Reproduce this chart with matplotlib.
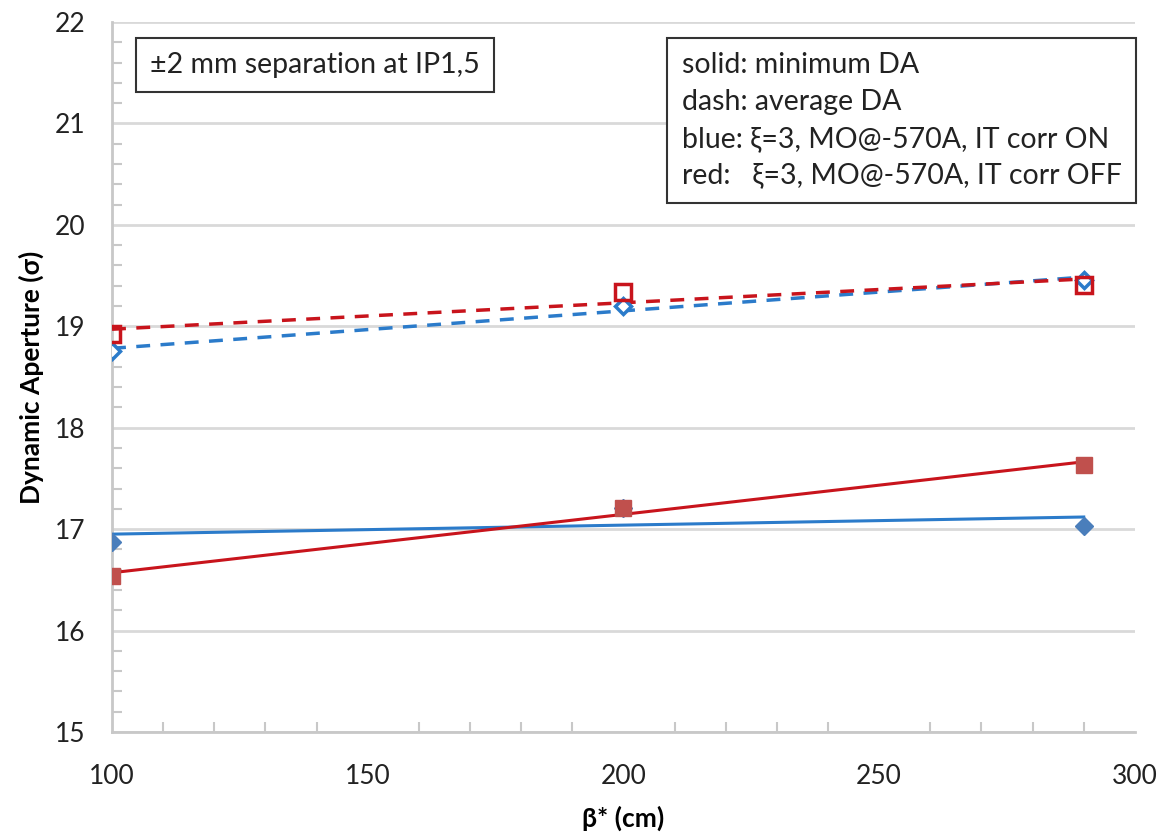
import numpy as np
import matplotlib.pyplot as plt
from matplotlib.ticker import MultipleLocator

# beta* values (cm)
beta = [100, 200, 290]

# dynamic aperture (sigma)
min_on = [16.87, 17.21, 17.03]   # blue, solid
min_off = [16.54, 17.21, 17.63]  # red, solid
avg_on = [18.76, 19.20, 19.46]   # blue, dash
avg_off = [18.92, 19.34, 19.41]  # red, dash

plt.rcParams['font.family'] = ['Lato', 'DejaVu Sans']

fig = plt.figure(figsize=(11.61, 8.36), dpi=100)
ax = fig.add_axes([0.0965, 0.1244, 0.881, 0.8493])


def trend(x, y):
    # linear trend line over the data range
    p = np.polyfit(x, y, 1)
    xs = np.array([min(x), max(x)])
    return xs, np.polyval(p, xs)


blue_line = '#2b7bca'
blue_mark = '#4a7ebb'
red_line = '#c8141c'
red_mark = '#c0504d'

# trend lines
xs, ys = trend(beta, min_on)
ax.plot(xs, ys, '-', color=blue_line, lw=2.2, zorder=3)
xs, ys = trend(beta, min_off)
ax.plot(xs, ys, '-', color=red_line, lw=2.2, zorder=3)
xs, ys = trend(beta, avg_on)
ax.plot(xs, ys, '--', color=blue_line, lw=2.5, dashes=(4, 3), zorder=3)
xs, ys = trend(beta, avg_off)
ax.plot(xs, ys, '--', color=red_line, lw=2.5, dashes=(4, 3), zorder=3)

# markers
ax.plot(beta, min_on, 'D', color=blue_mark, ms=9, ls='none', zorder=4)
ax.plot(beta, min_off, 's', color=red_mark, ms=11, ls='none', zorder=5)
ax.plot(beta, avg_on, 'D', mfc='white', mec=blue_line, mew=2.5, ms=8, ls='none', zorder=4)
ax.plot(beta, avg_off, 's', mfc='none', mec=red_line, mew=2.5, ms=11, ls='none', zorder=5)

ax.set_xlim(100, 300)
ax.set_ylim(15, 22)
ax.xaxis.set_major_locator(MultipleLocator(50))
ax.xaxis.set_minor_locator(MultipleLocator(10))
ax.yaxis.set_major_locator(MultipleLocator(1))
ax.yaxis.set_minor_locator(MultipleLocator(0.2))
ax.grid(axis='y', which='major', color='#d9d9d9', lw=2)
ax.set_axisbelow(True)

for s in ['top', 'right']:
    ax.spines[s].set_visible(False)
for s in ['left', 'bottom']:
    ax.spines[s].set_color('#c8c8c8')
    ax.spines[s].set_linewidth(2)

ax.tick_params(which='major', length=0, labelsize=19, colors='#222222')
ax.tick_params(which='minor', direction='in', length=7, width=1.5, color='#c8c8c8')
ax.tick_params(axis='y', which='major', pad=19)
ax.tick_params(axis='x', which='major', pad=23)

ax.set_xlabel('β* (cm)', fontsize=19, fontweight='bold', labelpad=12)
ax.set_ylabel('Dynamic Aperture (σ)', fontsize=19, fontweight='bold', labelpad=8)

ax.text(0.037, 0.958, '±2 mm separation at IP1,5', transform=ax.transAxes,
        fontsize=20.5, color='#222222', va='top', ha='left',
        bbox=dict(boxstyle='square,pad=0.5', fc='white', ec='#333333', lw=1.5))
ax.text(0.987, 0.958,
        'solid: minimum DA\n'
        'dash: average DA\n'
        'blue: ξ=3, MO@-570A, IT corr ON\n'
        'red:   ξ=3, MO@-570A, IT corr OFF',
        transform=ax.transAxes, fontsize=20.5, color='#222222', va='top',
        ha='right', multialignment='left', linespacing=1.52,
        bbox=dict(boxstyle='square,pad=0.5', fc='white', ec='#333333', lw=1.5))

fig.savefig('out.png', dpi=100)
